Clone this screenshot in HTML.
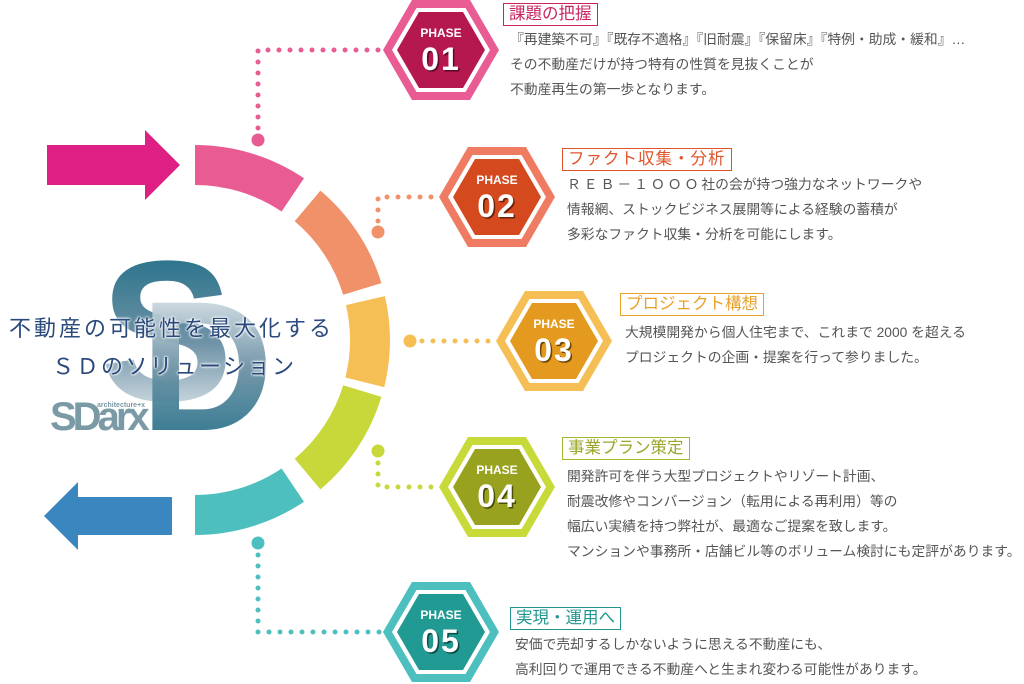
<!DOCTYPE html>
<html><head><meta charset="utf-8"><style>
html,body{margin:0;padding:0;background:#fff;}
#w{position:relative;width:1024px;height:684px;overflow:hidden;font-family:"Liberation Sans","Noto Sans CJK JP",sans-serif;}
svg{position:absolute;left:0;top:0;}
.t{position:absolute;font-size:16.5px;padding:0 5px;line-height:21px;border:1.5px solid;background:#fff;white-space:nowrap;}
.b{position:absolute;font-size:13.8px;color:#555;line-height:25px;white-space:nowrap;}
.m{position:absolute;color:#2b4a7c;font-size:22px;white-space:nowrap;text-shadow:0 0 2px #fff,0 0 2px #fff,0 0 3px #fff;}
</style></head><body><div id="w">
<svg width="1024" height="684" viewBox="0 0 1024 684" font-family="Liberation Sans, sans-serif">
<defs>
<linearGradient id="gs" x1="0" y1="0" x2="0" y2="1"><stop offset="0" stop-color="#0d6680"/><stop offset="0.55" stop-color="#6f93a6"/><stop offset="1" stop-color="#ffffff"/></linearGradient>
<linearGradient id="gd" x1="0" y1="0" x2="0" y2="1"><stop offset="0" stop-color="#ffffff"/><stop offset="0.5" stop-color="#6f93a6"/><stop offset="1" stop-color="#0d6680"/></linearGradient>
</defs>
<polygon points="47,145 145,145 145,130 180,165 145,200 145,185 47,185" fill="#de1f84"/>
<polygon points="172,497 78,497 78,482 44,516 78,550 78,535 172,535" fill="#3a87c0"/>
<path d="M195,145 A195,195 0 0 1 304,178.3 L281.6,211.5 A155,155 0 0 0 195,185 Z" fill="#e95b93"/>
<path d="M320.4,190.6 A195,195 0 0 1 381.4,283.1 L343.2,294.7 A155,155 0 0 0 294.7,221.3 Z" fill="#f0916a"/>
<path d="M384.9,296.1 A195,195 0 0 1 384.2,387.2 L345.4,377.5 A155,155 0 0 0 346,305.1 Z" fill="#f5bf55"/>
<path d="M381.4,396.9 A195,195 0 0 1 320.4,489.4 L294.7,458.7 A155,155 0 0 0 343.2,385.3 Z" fill="#c8d73a"/>
<path d="M304,501.7 A195,195 0 0 1 195,535 L195,495 A155,155 0 0 0 281.6,468.5 Z" fill="#4dbfbf"/>
<text x="100" y="400" font-size="200" font-weight="bold" fill="url(#gs)">S</text>
<text x="140" y="430" font-size="185" font-weight="bold" fill="url(#gd)" opacity="0.95">D</text>
<text x="50" y="430" font-size="40" font-weight="bold" fill="#7a9aa5" letter-spacing="-4">SDarx</text>
<text x="97" y="407" font-size="7" font-weight="bold" fill="#7a9aa5">architecture+x</text>
<g fill="none" stroke-width="5" stroke-linecap="round" stroke-dasharray="0 11">
<polyline points="258,128 258,50 382,50" stroke="#e95b93"/>
<polyline points="378,221 378,197 438,197" stroke="#f0916a"/>
<polyline points="422,341 497,341" stroke="#f5bf55"/>
<polyline points="378,463 378,487 440,487" stroke="#c8d73a"/>
<polyline points="258,555 258,632 382,632" stroke="#4dbfbf"/>
</g>
<circle cx="258" cy="140" r="6.5" fill="#e95b93"/>
<circle cx="378" cy="232" r="6.5" fill="#f0916a"/>
<circle cx="410" cy="341" r="6.5" fill="#f5bf55"/>
<circle cx="378" cy="451" r="6.5" fill="#c8d73a"/>
<circle cx="258" cy="543" r="6.5" fill="#4dbfbf"/>
<g transform="translate(441,50)">
<polygon points="-58,0 -29,-50 29,-50 58,0 29,50 -29,50" fill="#e95b93"/>
<polygon points="-49,0 -24.5,-42 24.5,-42 49,0 24.5,42 -24.5,42" fill="#fff"/>
<polygon points="-44,0 -22,-38 22,-38 44,0 22,38 -22,38" fill="#b5174f"/>
<text x="0" y="-13" text-anchor="middle" font-size="12" font-weight="bold" fill="#fff">PHASE</text>
<text x="1.5" y="21.5" text-anchor="middle" font-size="32" font-weight="bold" fill="#5a0a26" letter-spacing="2">01</text>
<text x="0" y="20" text-anchor="middle" font-size="32" font-weight="bold" fill="#fff" letter-spacing="2">01</text>
</g>
<g transform="translate(497,197)">
<polygon points="-58,0 -29,-50 29,-50 58,0 29,50 -29,50" fill="#ef7c62"/>
<polygon points="-49,0 -24.5,-42 24.5,-42 49,0 24.5,42 -24.5,42" fill="#fff"/>
<polygon points="-44,0 -22,-38 22,-38 44,0 22,38 -22,38" fill="#d44a1e"/>
<text x="0" y="-13" text-anchor="middle" font-size="12" font-weight="bold" fill="#fff">PHASE</text>
<text x="1.5" y="21.5" text-anchor="middle" font-size="32" font-weight="bold" fill="#6a2008" letter-spacing="2">02</text>
<text x="0" y="20" text-anchor="middle" font-size="32" font-weight="bold" fill="#fff" letter-spacing="2">02</text>
</g>
<g transform="translate(554,341)">
<polygon points="-58,0 -29,-50 29,-50 58,0 29,50 -29,50" fill="#f5bf55"/>
<polygon points="-49,0 -24.5,-42 24.5,-42 49,0 24.5,42 -24.5,42" fill="#fff"/>
<polygon points="-44,0 -22,-38 22,-38 44,0 22,38 -22,38" fill="#e39a1f"/>
<text x="0" y="-13" text-anchor="middle" font-size="12" font-weight="bold" fill="#fff">PHASE</text>
<text x="1.5" y="21.5" text-anchor="middle" font-size="32" font-weight="bold" fill="#6e4506" letter-spacing="2">03</text>
<text x="0" y="20" text-anchor="middle" font-size="32" font-weight="bold" fill="#fff" letter-spacing="2">03</text>
</g>
<g transform="translate(497,487)">
<polygon points="-58,0 -29,-50 29,-50 58,0 29,50 -29,50" fill="#c8da3a"/>
<polygon points="-49,0 -24.5,-42 24.5,-42 49,0 24.5,42 -24.5,42" fill="#fff"/>
<polygon points="-44,0 -22,-38 22,-38 44,0 22,38 -22,38" fill="#99a21e"/>
<text x="0" y="-13" text-anchor="middle" font-size="12" font-weight="bold" fill="#fff">PHASE</text>
<text x="1.5" y="21.5" text-anchor="middle" font-size="32" font-weight="bold" fill="#4a4e08" letter-spacing="2">04</text>
<text x="0" y="20" text-anchor="middle" font-size="32" font-weight="bold" fill="#fff" letter-spacing="2">04</text>
</g>
<g transform="translate(441,632)">
<polygon points="-58,0 -29,-50 29,-50 58,0 29,50 -29,50" fill="#4dbfbf"/>
<polygon points="-49,0 -24.5,-42 24.5,-42 49,0 24.5,42 -24.5,42" fill="#fff"/>
<polygon points="-44,0 -22,-38 22,-38 44,0 22,38 -22,38" fill="#219a93"/>
<text x="0" y="-13" text-anchor="middle" font-size="12" font-weight="bold" fill="#fff">PHASE</text>
<text x="1.5" y="21.5" text-anchor="middle" font-size="32" font-weight="bold" fill="#0c4a46" letter-spacing="2">05</text>
<text x="0" y="20" text-anchor="middle" font-size="32" font-weight="bold" fill="#fff" letter-spacing="2">05</text>
</g>
</svg>

<div class="m" style="left:9px;top:311px;letter-spacing:3px;">不動産の可能性を最大化する</div>
<div class="m" style="left:52px;top:349px;letter-spacing:2.5px;">ＳＤのソリューション</div>

<div class="t" style="left:503px;top:3px;color:#c8245f;border-color:#c8245f;">課題の把握</div>
<div class="b" style="left:510px;top:27px;">『再建築不可』『既存不適格』『旧耐震』『保留床』『特例・助成・緩和』…<br>その不動産だけが持つ特有の性質を見抜くことが<br>不動産再生の第一歩となります。</div>

<div class="t" style="left:562px;top:148px;color:#e0542a;border-color:#e0542a;letter-spacing:1px;">ファクト収集・分析</div>
<div class="b" style="left:567px;top:172px;"><span style="letter-spacing:3px">ＲＥＢ－１ＯＯＯ</span>社の会が持つ強力なネットワークや<br>情報網、ストックビジネス展開等による経験の蓄積が<br>多彩なファクト収集・分析を可能にします。</div>

<div class="t" style="left:620px;top:293px;color:#e8a22a;border-color:#e8a22a;">プロジェクト構想</div>
<div class="b" style="left:625px;top:320px;">大規模開発から個人住宅まで、これまで 2000 を超える<br>プロジェクトの企画・提案を行って参りました。</div>

<div class="t" style="left:562px;top:437px;color:#9aa52a;border-color:#a8b52e;">事業プラン策定</div>
<div class="b" style="left:567px;top:464px;">開発許可を伴う大型プロジェクトやリゾート計画、<br>耐震改修やコンバージョン（転用による再利用）等の<br>幅広い実績を持つ弊社が、最適なご提案を致します。<br>マンションや事務所・店舗ビル等のボリューム検討にも定評があります。</div>

<div class="t" style="left:510px;top:607px;color:#21968f;border-color:#21968f;">実現・運用へ</div>
<div class="b" style="left:515px;top:632px;">安価で売却するしかないように思える不動産にも、<br>高利回りで運用できる不動産へと生まれ変わる可能性があります。</div>
</div></body></html>
